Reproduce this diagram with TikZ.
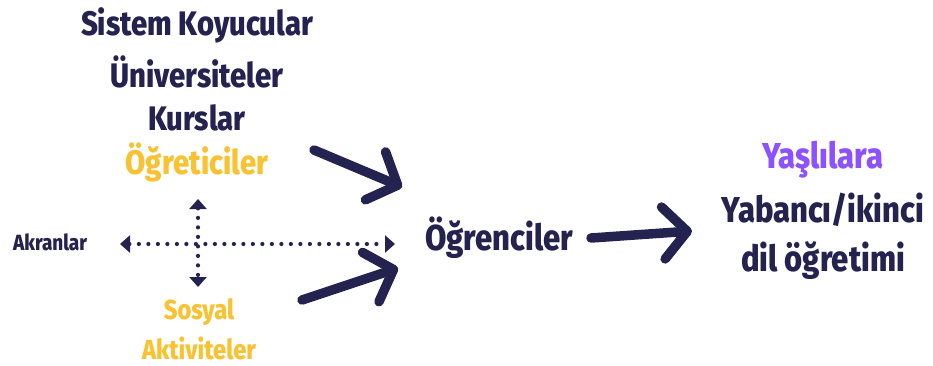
\documentclass[tikz,border=0pt]{standalone}
\usepackage{fontspec}
\setmainfont{Fira Sans}[FakeStretch=0.86, BoldFont={Fira Sans ExtraBold}]
\usetikzlibrary{arrows.meta}
\definecolor{navy}{HTML}{24224F}
\definecolor{gold}{HTML}{F9C232}
\definecolor{lilac}{HTML}{8C52FF}

\begin{document}
\begin{tikzpicture}[x=1pt,y=-1pt]

    % Define styles
    \tikzset{
        big label/.style={font=\fontsize{34}{34}\selectfont\bfseries, text=navy, inner sep=0pt},
        mid label/.style={font=\fontsize{27.5}{27.5}\selectfont\bfseries, text=gold, inner sep=0pt},
        small label/.style={font=\fontsize{22}{22}\selectfont\bfseries, text=navy, inner sep=0pt},
        goal label/.style={font=\fontsize{36}{36}\selectfont\bfseries, text=navy, inner sep=0pt},
        brush/.style={draw=navy, line width=9.5pt, line cap=round, line join=round,
            -{Straight Barb[length=24pt, width=52pt, round]}},
        dots/.style={draw=navy, line width=4.2pt, line cap=round, dash pattern=on 0pt off 9.5pt,
            {Triangle[length=10pt, width=17pt]}-{Triangle[length=10pt, width=17pt]}}
    }

    % Fix the page size
    \useasboundingbox (0,0) rectangle (933,365);

    % Sources at the top
    \node[big label] (setters) at (197,25) {Sistem Koyucular};
    \node[big label] (univ) at (197,72) {Üniversiteler};
    \node[big label] (courses) at (197,118) {Kurslar};
    \node[big label, text=gold] (teachers) at (197,162) {Öğreticiler};

    % Peers and social activities
    \node[small label] (peers) at (50,242) {Akranlar};
    \node[mid label] (social) at (199,312) {Sosyal};
    \node[mid label] (activities) at (199,348) {Aktiviteler};

    % Learners in the middle
    \node[goal label] (learners) at (499,238) {Öğrenciler};

    % Goal on the right
    \node[goal label, text=lilac] (elderly) at (823,160) {Yaşlılara};
    \node[goal label] (foreign) at (823,210) {Yabancı/ikinci};
    \node[goal label] (teaching) at (823,261) {dil öğretimi};

    % Coordinates for the dotted arrows
    \coordinate (cross-w) at (120,244);
    \coordinate (cross-e) at (395,244);
    \coordinate (cross-n) at (198,199);
    \coordinate (cross-s) at (198,287);

    \draw[dots] (cross-w) -- (cross-e);
    \draw[dots] (cross-n) -- (cross-s);

    % Coordinates for the brush arrows
    \coordinate (upper-tail) at (314,150);
    \coordinate (upper-tip) at (402,187);
    \coordinate (lower-tail) at (302,300);
    \coordinate (lower-tip) at (398,268);
    \coordinate (right-tail) at (591,238);
    \coordinate (right-tip) at (692,231);

    \draw[brush] (upper-tail) -- (upper-tip);
    \draw[brush] (lower-tail) -- (lower-tip);
    \draw[brush] (right-tail) -- (right-tip);

\end{tikzpicture}
\end{document}
